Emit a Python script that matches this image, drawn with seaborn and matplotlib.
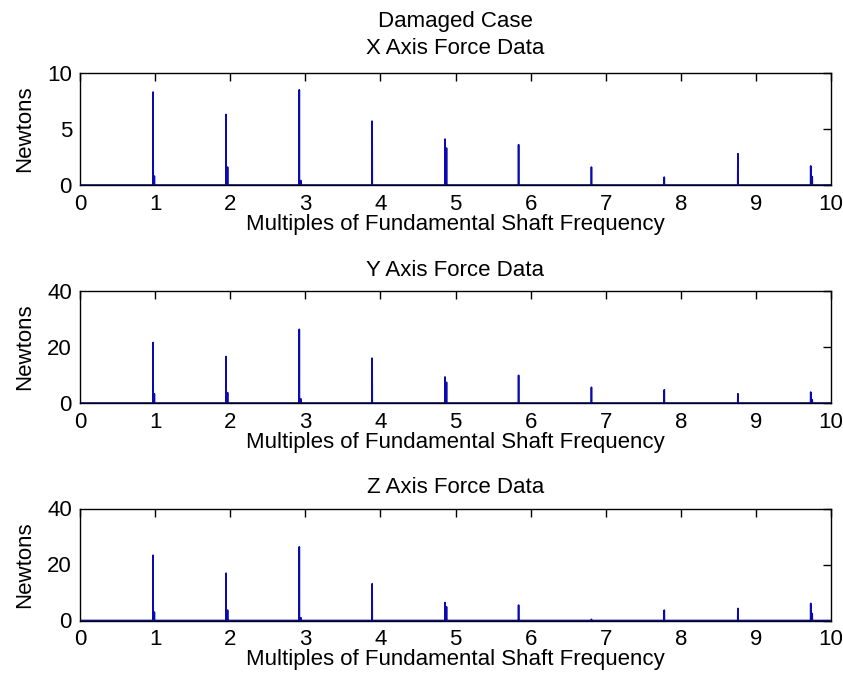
import numpy as np
import pandas as pd
import matplotlib
matplotlib.use("Agg")
import matplotlib.pyplot as plt
import seaborn as sns

# ---- data ----
harmonics = [1, 2, 3, 4, 5, 6, 7, 8, 9, 10]
peak_freq = [0.973, 1.945, 2.92, 3.89, 4.86, 5.84, 6.81, 7.78, 8.76, 9.73]
side_freq = [0.99, 1.965, 2.94, 3.91, 4.88, 5.86, 6.83, 7.80, 8.78, 9.75]

x_main = [8.3, 6.3, 8.5, 5.7, 4.1, 3.6, 1.6, 0.7, 2.8, 1.7]
x_side = [0.8, 1.6, 0.4, 0.0, 3.3, 0.0, 0.0, 0.0, 0.0, 0.75]

y_main = [21.6, 16.6, 26.3, 16.0, 9.3, 9.9, 5.6, 4.7, 3.3, 3.9]
y_side = [3.3, 3.7, 1.5, 0.0, 7.4, 0.0, 0.0, 0.0, 0.0, 1.2]

z_main = [23.3, 16.9, 26.3, 13.1, 6.4, 5.5, 0.4, 3.7, 4.3, 6.1]
z_side = [3.0, 3.7, 1.0, 0.0, 4.9, 0.0, 0.0, 0.0, 0.0, 2.5]

titles = ["Damaged Case\nX Axis Force Data", "Y Axis Force Data", "Z Axis Force Data"]
ylims = [10, 40, 40]
yticks = [[0, 5, 10], [0, 20, 40], [0, 20, 40]]
xticks = [0, 1, 2, 3, 4, 5, 6, 7, 8, 9, 10]
xlabel = "Multiples of Fundamental Shaft Frequency"
ylabel = "Newtons"


def spectrum(main_f, main_a, side_f, side_a):
    """Turn the read peak list into a spike trace (vertical lines from 0)."""
    pts = [(0.0, 0.0)]
    comps = sorted(list(zip(main_f, main_a)) + [(f, a) for f, a in zip(side_f, side_a) if a > 0])
    d = 0.002
    for f, a in comps:
        pts += [(f - d, 0.0), (f, a), (f + d, 0.0)]
    pts.append((10.0, 0.0))
    return pd.DataFrame(pts, columns=["freq", "amp"])


sns.set_style("white")
plt.rcParams["font.family"] = ["Liberation Sans", "DejaVu Sans"]
plt.rcParams["font.size"] = 16
plt.rcParams["text.color"] = "black"
plt.rcParams["axes.labelcolor"] = "black"
plt.rcParams["xtick.color"] = "black"
plt.rcParams["ytick.color"] = "black"

fig = plt.figure(figsize=(8.43, 6.83), dpi=100)
W, H = 843.0, 683.0
tops = [73, 291, 508.5]
hgt = 112
title_pads = [13.5, 11.0, 11.0]

series = [(x_main, x_side), (y_main, y_side), (z_main, z_side)]
line_color = "#0a0ab0"

for i, (mains, sides) in enumerate(series):
    top = tops[i]
    ax = fig.add_axes([80 / W, 1 - (top + hgt) / H, 751 / W, hgt / H])
    df = spectrum(peak_freq, mains, side_freq, sides)
    sns.lineplot(data=df, x="freq", y="amp", ax=ax, estimator=None, sort=False,
                 color=line_color, linewidth=1.2)
    ax.set_xlim(0, 10)
    ax.set_ylim(0, ylims[i])
    ax.set_xticks(xticks)
    ax.set_yticks(yticks[i])
    ax.tick_params(direction="in", length=6, width=1, top=True, right=True,
                   labelsize=16, colors="black")
    ax.tick_params(axis="x", pad=6.3)
    ax.tick_params(axis="y", pad=5.8)
    for s in ax.spines.values():
        s.set_visible(True)
        s.set_color("black")
        s.set_linewidth(1.0)
    ax.set_title(titles[i], fontsize=16, pad=title_pads[i], linespacing=1.36, color="black")
    ax.set_xlabel(xlabel, fontsize=16, color="black")
    ax.set_ylabel(ylabel, fontsize=16, color="black")
    ax.xaxis.set_label_coords(0.5, -(214 - 185) / hgt)
    ax.yaxis.set_label_coords(-(80 - 34.7) / 751, 0.5)

fig.savefig("out.png", dpi=100, facecolor="white")
